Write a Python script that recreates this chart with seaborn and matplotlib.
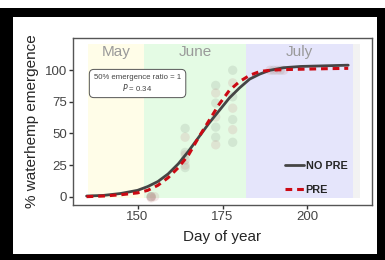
import numpy as np
import pandas as pd
import matplotlib
matplotlib.use("Agg")
import matplotlib.pyplot as plt
import seaborn as sns
from matplotlib.patches import Rectangle
from matplotlib.lines import Line2D

sns.set_style("white")
plt.rcParams['font.family'] = ['Liberation Sans', 'DejaVu Sans']

# fitted curves
curve_day = [135, 140, 145, 150, 153, 156, 159, 162, 165, 168, 171, 174, 177, 180, 183, 186, 189, 193, 198, 205, 212]
nopre_fit = [0.5, 1, 2.5, 5, 8, 12, 18, 26, 36, 47, 58, 68, 78, 86, 93, 97, 100, 102, 103, 103.5, 104]
pre_fit = [0, 0.5, 1.5, 3, 5, 9, 15, 23, 33, 47, 60, 73, 84, 91, 96, 99, 100, 100.5, 100.8, 101.2, 101.5]

# observed emergence
nopre_day = [154, 154, 164, 164, 164, 164, 173, 173, 173, 173, 178, 178, 178, 178, 190, 192]
nopre_obs = [0, 0, 54, 35, 29, 23, 88, 74, 55, 47, 100, 79, 61, 43, 100, 100]
pre_day = [154, 155, 154, 164, 164, 164, 173, 173, 173, 178, 178, 178, 189, 191, 193]
pre_obs = [0, 0, -1, 47, 33, 25, 82, 63, 41, 90, 70, 53, 100, 100, 100]

months = ["May", "June", "July"]
month_start = [135.5, 152, 182]
month_end = [152, 182, 213.5]
month_colors = ["#fffde8", "#e4fbe4", "#e5e5fb"]

fig = plt.figure(figsize=(3.85, 2.6), dpi=100)
fig.patches.append(Rectangle((0, 0), 1, 1 - 8 / 260, transform=fig.transFigure,
                             facecolor="black", edgecolor="none", zorder=-2))
fig.patches.append(Rectangle((13 / 385, 6 / 260), (377 - 13) / 385, (254 - 17) / 260,
                             transform=fig.transFigure, facecolor="white",
                             edgecolor="none", zorder=-1))
ax = fig.add_axes([73 / 385, 1 - 205 / 260, (372 - 73) / 385, (205 - 38) / 260])
ax.set_facecolor("white")

for name, a, b, c in zip(months, month_start, month_end, month_colors):
    ax.fill_between([a, b], -1, 121, color=c, linewidth=0, zorder=0)
    ax.text((a + b) / 2, 114.5, name, ha="center", va="center", fontsize=11,
            color="#9a9a9a", zorder=1)
ax.fill_between([213.5, 215.5], -1, 121, color="#f2f2f2", linewidth=0, zorder=0)

pts = pd.DataFrame({"day": nopre_day + pre_day,
                    "pct": nopre_obs + pre_obs,
                    "trt": ["NO PRE"] * len(nopre_day) + ["PRE"] * len(pre_day)})
sns.scatterplot(data=pts, x="day", y="pct", hue="trt",
                palette={"NO PRE": "#8a9a8a", "PRE": "#c98a8a"},
                s=45, alpha=0.2, edgecolor="none", legend=False, ax=ax, zorder=2)

fit = pd.DataFrame({"day": curve_day * 2,
                    "pct": nopre_fit + pre_fit,
                    "trt": ["NO PRE"] * len(curve_day) + ["PRE"] * len(curve_day)})
sns.lineplot(data=fit[fit.trt == "NO PRE"], x="day", y="pct", color="#454545",
             linewidth=2, ax=ax, zorder=3)
sns.lineplot(data=fit[fit.trt == "PRE"], x="day", y="pct", color="#cc0a14",
             linewidth=2.2, linestyle=(0, (2.2, 1.6)), ax=ax, zorder=4)

ax.text(150, 89.5, "50% emergence ratio = 1\n$\\it{P}$ = 0.34", ha="center", va="center",
        fontsize=5.6, color="#444444", linespacing=1.1,
        bbox=dict(boxstyle="round,pad=0.6,rounding_size=0.6", facecolor="white",
                  edgecolor="#555555", linewidth=0.7), zorder=5)

handles = [Line2D([], [], color="#454545", linewidth=2),
           Line2D([], [], color="#cc0a14", linewidth=2.2, linestyle=(0, (2.2, 1.6)))]
leg = ax.legend(handles, ["NO PRE", "PRE"], loc="lower right", bbox_to_anchor=(0.95, 0.0),
                frameon=False, handlelength=1.8, handletextpad=0.1, labelspacing=1.3,
                prop={"weight": "bold", "size": 7.8})

ax.set_xlim(131, 219)
ax.set_ylim(-6.6, 125.5)
ax.set_xticks([150, 175, 200])
ax.set_yticks([0, 25, 50, 75, 100])
ax.tick_params(axis="both", direction="out", length=3, width=1, color="#333333",
               labelsize=9.5, labelcolor="#444444", pad=1.5, bottom=True, left=True)
for s in ax.spines.values():
    s.set_color("#555555")
    s.set_linewidth(1)
ax.set_xlabel("Day of year", fontsize=11, labelpad=5)
ax.set_ylabel("% waterhemp emergence", fontsize=11, labelpad=4)

fig.savefig("out.png", dpi=100)
